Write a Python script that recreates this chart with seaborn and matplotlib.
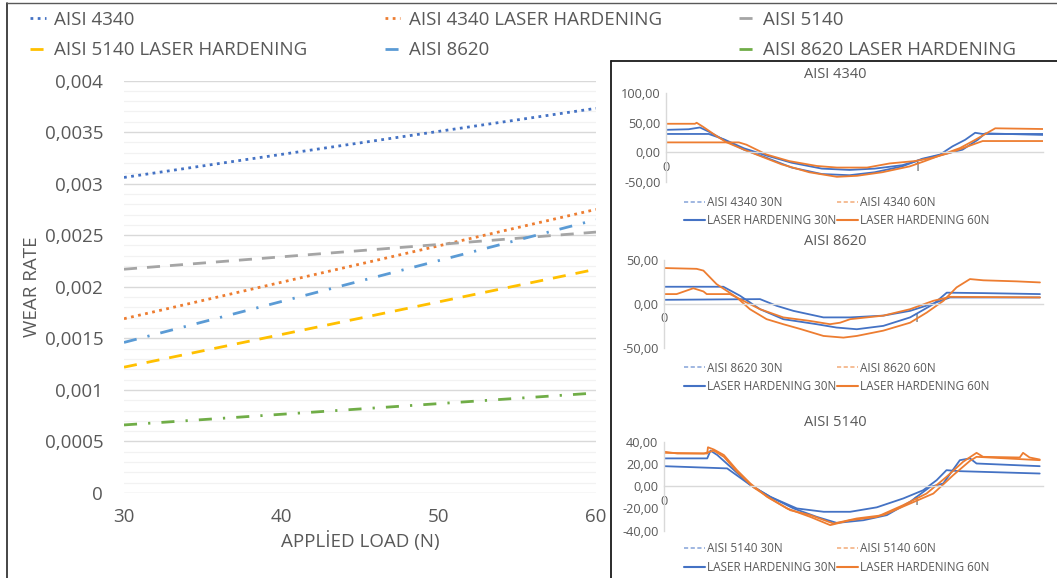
import matplotlib
matplotlib.use("Agg")
import matplotlib.pyplot as plt
import seaborn as sns
from matplotlib.lines import Line2D
from matplotlib.ticker import MultipleLocator, FuncFormatter, FixedLocator

# ---------------- main chart data ----------------
loads = [30, 60]
aisi4340 = [0.00306, 0.00373]
aisi4340_lh = [0.00169, 0.00275]
aisi5140 = [0.00217, 0.00253]
aisi5140_lh = [0.00122, 0.00217]
aisi8620 = [0.00146, 0.00265]
aisi8620_lh = [0.00066, 0.00097]
x_ticks = [30, 40, 50, 60]

# ---------------- inset data (friction traces) ----------------
# AISI 4340
p1_aisi30_t = [0, 0.09, 0.135, 0.17, 0.23, 0.31, 0.40, 0.50, 0.62, 0.73, 0.83, 0.94, 1.02, 1.09, 1.14, 1.19, 1.23, 1.26, 1.50]
p1_aisi30_v = [38, 39, 42, 35, 21, 4.4, -9.4, -26, -37, -39, -34, -24, -11, -4, 10, 21, 33, 31, 31]
p1_lh30_t = [0, 0.17, 0.23, 0.31, 0.40, 0.50, 0.62, 0.73, 0.83, 0.94, 1.02, 1.10, 1.18, 1.24, 1.27, 1.50]
p1_lh30_v = [31, 31, 22, 6.7, -5.6, -17.8, -27.8, -30, -27.8, -22, -12, -4, 4.4, 21, 32, 29.4]
p1_aisi60_t = [0, 0.115, 0.122, 0.148, 0.20, 0.24, 0.31, 0.37, 0.46, 0.57, 0.68, 0.76, 0.86, 0.97, 1.03, 1.10, 1.17, 1.23, 1.31, 1.50]
p1_aisi60_v = [48.3, 48.3, 50, 43, 27.8, 17, 4.4, -5.6, -20.6, -34, -41.7, -40, -34, -24, -15, -3.9, 7.2, 21, 40.6, 39.4]
p1_lh60_t = [0, 0.29, 0.32, 0.40, 0.49, 0.60, 0.68, 0.80, 0.89, 0.99, 1.06, 1.13, 1.19, 1.26, 1.50]
p1_lh60_v = [16.7, 16.7, 12.8, -3.9, -15, -23.3, -26, -26, -19, -15, -9.4, -1, 8.3, 19, 19]

# AISI 8620
p2_aisi60_t = [0, 0.129, 0.156, 0.208, 0.288, 0.34, 0.406, 0.472, 0.538, 0.631, 0.71, 0.763, 0.868, 0.974, 1.04, 1.106, 1.158, 1.211, 1.264, 1.396, 1.488]
p2_aisi60_v = [40.9, 40, 38, 22.7, 7.6, -5.7, -17, -22.7, -28, -36, -37.9, -36, -30, -21, -9.5, 3.8, 19, 28.4, 27, 25.8, 24.6]
p2_lh60_t = [0, 0.05, 0.116, 0.156, 0.169, 0.261, 0.314, 0.38, 0.472, 0.578, 0.657, 0.697, 0.737, 0.868, 0.974, 1.066, 1.132, 1.488]
p2_lh60_v = [11.4, 11.4, 18, 14.4, 11.4, 11.4, 3.8, -5.7, -15, -19, -22.7, -21, -17, -13, -5.7, 3.8, 8.3, 7.6]
p2_aisi30_t = [0, 0.235, 0.301, 0.38, 0.472, 0.604, 0.683, 0.763, 0.868, 0.974, 1.066, 1.119, 1.264, 1.488]
p2_aisi30_v = [19.7, 19.7, 9.5, -5.7, -17, -22.7, -26.5, -28.4, -24.6, -15, 0, 13, 12.5, 11.4]
p2_lh30_t = [0, 0.38, 0.446, 0.512, 0.631, 0.737, 0.868, 0.974, 1.066, 1.132, 1.488]
p2_lh30_v = [4.9, 5.7, -1.9, -7.6, -15, -15, -13, -7.6, 0.8, 7.6, 7.6]

# AISI 5140
p3_aisi60_t = [0, 0.053, 0.171, 0.174, 0.197, 0.237, 0.289, 0.342, 0.408, 0.487, 0.579, 0.658, 0.737, 0.842, 0.947, 1.039, 1.118, 1.184, 1.237, 1.263, 1.408, 1.421, 1.447, 1.487]
p3_aisi60_v = [31, 29.4, 29.4, 35, 33, 28, 14.4, 2.4, -9.6, -20, -27.6, -35, -30.6, -27.6, -17, -6.6, 8.4, 22, 30, 26.4, 25.8, 30, 25.8, 24]
p3_lh60_t = [0, 0.158, 0.197, 0.237, 0.289, 0.355, 0.421, 0.5, 0.579, 0.671, 0.763, 0.868, 0.974, 1.066, 1.145, 1.211, 1.237, 1.487]
p3_lh60_v = [30, 29.4, 32, 26.4, 13, -1.2, -11, -21.6, -26, -33.6, -29, -26, -15.6, -6.6, 10, 22.8, 26.4, 23.4]
p3_aisi30_t = [0, 0.171, 0.184, 0.211, 0.263, 0.342, 0.421, 0.513, 0.605, 0.684, 0.789, 0.882, 0.974, 1.053, 1.105, 1.171, 1.211, 1.237, 1.487]
p3_aisi30_v = [25, 25, 32, 28, 17.4, 1, -9.6, -20, -27.6, -33, -30.6, -26, -14, -0.6, 2.4, 23.4, 25, 20.4, 18]
p3_lh30_t = [0, 0.25, 0.342, 0.421, 0.526, 0.632, 0.737, 0.842, 0.947, 1.026, 1.079, 1.118, 1.171, 1.487]
p3_lh30_v = [18, 16, 1, -9.6, -20, -23, -23, -19, -11, -3.6, 5.4, 14.4, 13.5, 11.4]

# ---------------- styling ----------------
sns.set_theme(style="white")
plt.rcParams["font.family"] = ["Open Sans", "DejaVu Sans"]
TXT = "#595959"

W, H = 1057, 578
fig = plt.figure(figsize=(W / 100, H / 100), dpi=100)


def add_ax(x0, y0, x1, y1):
    return fig.add_axes([x0 / W, 1 - y1 / H, (x1 - x0) / W, (y1 - y0) / H])


# ---------------- main chart ----------------
ax = add_ax(124, 80.5, 596, 493)
main_series = [
    ("AISI 4340", aisi4340, "#4472c4", (0, (1, 1.6))),
    ("AISI 4340 LASER HARDENING", aisi4340_lh, "#ed7d31", (0, (1, 1.6))),
    ("AISI 5140", aisi5140, "#a5a5a5", (0, (4.7, 3.6))),
    ("AISI 5140 LASER HARDENING", aisi5140_lh, "#ffc000", (0, (4.7, 3.6))),
    ("AISI 8620", aisi8620, "#5b9bd5", (0, (4.7, 4, 0.8, 4))),
    ("AISI 8620 LASER HARDENING", aisi8620_lh, "#70ad47", (0, (4.7, 4, 0.8, 4))),
]
handles = {}
for name, vals, col, ls in main_series:
    sns.lineplot(x=loads, y=vals, ax=ax, color=col, linewidth=2.0, linestyle=ls, label=name)
    handles[name] = ax.get_lines()[-1]
if ax.get_legend() is not None:
    ax.get_legend().remove()

ax.set_xlim(30, 60)
ax.set_ylim(0, 0.004)
ax.yaxis.set_major_locator(MultipleLocator(0.0005))
ax.yaxis.set_minor_locator(MultipleLocator(0.0001))
ax.xaxis.set_major_locator(FixedLocator(x_ticks))


def fmt_main(v, pos):
    if abs(v) < 1e-12:
        return "0"
    s = f"{v:.4f}".rstrip("0").rstrip(".")
    return s.replace(".", ",")


ax.yaxis.set_major_formatter(FuncFormatter(fmt_main))
ax.grid(which="major", axis="y", color="#d9d9d9", linewidth=1.0)
ax.grid(which="minor", axis="y", color="#f2f2f2", linewidth=0.9)
ax.grid(which="major", axis="x", visible=False)
ax.set_axisbelow(True)
for s in ax.spines.values():
    s.set_visible(False)
ax.tick_params(axis="both", which="both", length=0, labelsize=13.5, labelcolor=TXT)
ax.tick_params(axis="y", pad=15)
ax.tick_params(axis="x", pad=11)
ax.set_xlabel("APPLİED LOAD (N)", fontsize=13.5, color=TXT)
ax.set_ylabel("WEAR RATE", fontsize=13.5, color=TXT)
ax.xaxis.set_label_coords(0.5, -0.092)
ax.yaxis.set_label_coords(-0.175, 0.5)

order = ["AISI 4340", "AISI 5140 LASER HARDENING", "AISI 4340 LASER HARDENING",
         "AISI 8620", "AISI 5140", "AISI 8620 LASER HARDENING"]
leg = fig.legend([handles[n] for n in order], order, loc="upper left",
                 bbox_to_anchor=(30 / W, 1 - 11 / H), ncol=3, frameon=False,
                 fontsize=13.5, labelcolor=TXT, handlelength=0.85, handletextpad=0.45,
                 columnspacing=4.1, labelspacing=0.66, borderpad=0, borderaxespad=0)

# frames
fig.add_artist(Line2D([7 / W, 7 / W], [0, 1 - 3 / H], color="#262626", lw=1.2))
fig.add_artist(Line2D([7 / W, 1], [1 - 3 / H, 1 - 3 / H], color="#595959", lw=1.0))
fig.add_artist(Line2D([611 / W, 611 / W], [0, 1 - 61 / H], color="#1a1a1a", lw=1.3))
fig.add_artist(Line2D([611 / W, 1], [1 - 61 / H, 1 - 61 / H], color="#1a1a1a", lw=1.3))

# ---------------- insets ----------------
BLUE, ORANGE = "#4472c4", "#ed7d31"
LBLUE, LORANGE = "#8faadc", "#f4b183"

panels = [
    ("AISI 4340", (666, 93.3, 1043, 181.7), (-50, 100), [100, 50, 0, -50], 75, 196,
     [(p1_aisi30_t, p1_aisi30_v, BLUE), (p1_lh30_t, p1_lh30_v, BLUE),
      (p1_aisi60_t, p1_aisi60_v, ORANGE), (p1_lh60_t, p1_lh60_v, ORANGE)]),
    ("AISI 8620", (664, 260, 1043, 348.3), (-50, 50), [50, 0, -50], 241.5, 361.5,
     [(p2_aisi30_t, p2_aisi30_v, BLUE), (p2_lh30_t, p2_lh30_v, BLUE),
      (p2_aisi60_t, p2_aisi60_v, ORANGE), (p2_lh60_t, p2_lh60_v, ORANGE)]),
    ("AISI 5140", (664, 441.7, 1043, 530.7), (-40, 40), [40, 20, 0, -20, -40], 423, 542.5,
     [(p3_aisi30_t, p3_aisi30_v, BLUE), (p3_lh30_t, p3_lh30_v, BLUE),
      (p3_aisi60_t, p3_aisi60_v, ORANGE), (p3_lh60_t, p3_lh60_v, ORANGE)]),
]

for title, box, ylim, yt, ty, ly, curves in panels:
    a = add_ax(*box)
    a.set_facecolor("none")
    for t, v, c in curves:
        sns.lineplot(x=t, y=v, ax=a, color=c, linewidth=1.3, sort=False, estimator=None)
    a.set_xlim(0, 1.5)
    a.set_ylim(*ylim)
    a.set_yticks(yt)
    a.yaxis.set_major_formatter(FuncFormatter(lambda v, p: f"{v:.2f}".replace(".", ",")))
    a.set_xticks([0, 1])
    a.set_xticklabels(["0", "1"])
    for s in ["top", "right"]:
        a.spines[s].set_visible(False)
    a.spines["left"].set_color("#d9d9d9")
    a.spines["bottom"].set_color("#d9d9d9")
    a.spines["left"].set_linewidth(1.0)
    a.spines["bottom"].set_linewidth(1.0)
    a.spines["bottom"].set_position(("data", 0))
    a.tick_params(axis="both", length=0, labelsize=9.2, labelcolor=TXT)
    a.tick_params(axis="y", pad=4)
    a.tick_params(axis="x", pad=6)
    a.grid(False)
    a.set_xlabel("")
    a.set_ylabel("")
    fig.text(835 / W, 1 - ty / H, title, ha="center", va="center", fontsize=10.5, color=TXT)
    num = title.split()[-1]
    hs = [Line2D([], [], color=LBLUE, lw=1.2, linestyle=(0, (2.5, 1.5))),
          Line2D([], [], color=BLUE, lw=1.5),
          Line2D([], [], color=LORANGE, lw=1.2, linestyle=(0, (2.5, 1.5))),
          Line2D([], [], color=ORANGE, lw=1.5)]
    labs = [f"AISI {num} 30N", "LASER HARDENING 30N", f"AISI {num} 60N", "LASER HARDENING 60N"]
    fig.legend(hs, labs, loc="upper left", bbox_to_anchor=(684 / W, 1 - ly / H), ncol=2,
               frameon=False, fontsize=8.5, labelcolor=TXT, handlelength=1.75,
               handletextpad=0.2, columnspacing=0.1, labelspacing=0.45, borderpad=0,
               borderaxespad=0)

fig.savefig("out.png", dpi=100)
